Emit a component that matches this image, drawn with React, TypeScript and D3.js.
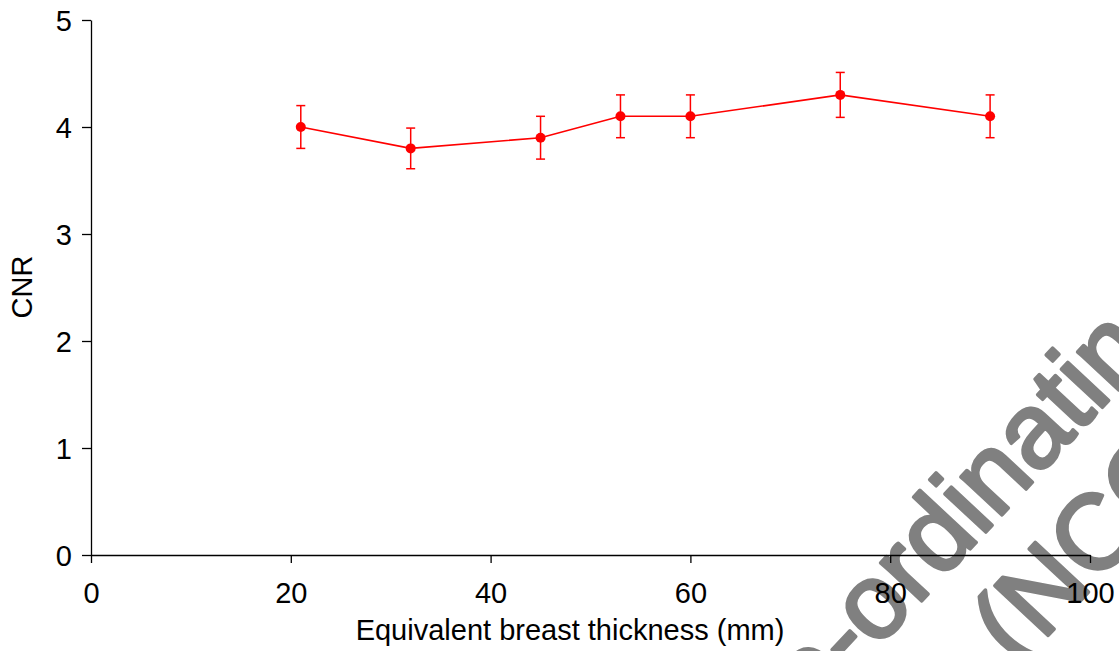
import { useEffect, useRef } from 'react'
import * as d3 from 'd3'

const thickness = [21, 32, 45, 53, 60, 75, 90]
const cnr = [4.0, 3.8, 3.9, 4.1, 4.1, 4.3, 4.1]
const cnrError = [0.2, 0.19, 0.2, 0.2, 0.2, 0.21, 0.2]
const xTicks = [0, 20, 40, 60, 80, 100]
const yTicks = [0, 1, 2, 3, 4, 5]
const watermarkLines = ['Co-ordinating Centre', '(NCCPM)']

const FONT = '"Liberation Sans", Arial, sans-serif'

const App = () => {
  const ref = useRef<SVGSVGElement | null>(null)

  useEffect(() => {
    if (!ref.current) return
    const svg = d3.select(ref.current)
    svg.selectAll('*').remove()

    const width = 1119
    const height = 651
    const x = d3.scaleLinear().domain([0, 100]).range([91, 1090])
    const y = d3.scaleLinear().domain([0, 5]).range([555, 20])

    svg.attr('width', width).attr('height', height).attr('viewBox', `0 0 ${width} ${height}`)

    // watermark sits under everything
    const wm = svg
      .append('g')
      .attr('transform', 'translate(876,650) rotate(-47)')
      .attr('fill', '#808080')
      .attr('stroke', '#808080')
      .attr('stroke-width', 3.5)
      .attr('stroke-linejoin', 'round')
      .attr('font-family', FONT)
      .attr('font-size', 106)
    wm.append('text').attr('x', -170).attr('y', 0).text(watermarkLines[0])
    wm.append('text').attr('x', 84).attr('y', 116).text(watermarkLines[1])

    const gx = svg
      .append('g')
      .attr('transform', `translate(0,${y(0)})`)
      .call(d3.axisBottom(x).tickValues(xTicks).tickFormat(d3.format('d')).tickSize(8).tickSizeOuter(0))
    gx.select('.domain').attr('stroke', '#000').attr('stroke-width', 1.3)
    gx.selectAll('.tick line').attr('stroke', '#000').attr('stroke-width', 1.3)
    gx.selectAll('.tick text')
      .attr('y', 48)
      .attr('dy', 0)
      .attr('fill', '#000')
      .attr('font-family', FONT)
      .attr('font-size', 29)

    const gy = svg
      .append('g')
      .attr('transform', `translate(${x(0)},0)`)
      .call(d3.axisLeft(y).tickValues(yTicks).tickFormat(d3.format('d')).tickSize(9).tickSizeOuter(0))
    gy.select('.domain').attr('stroke', '#000').attr('stroke-width', 1.3)
    gy.selectAll('.tick line').attr('stroke', '#000').attr('stroke-width', 1.3)
    gy.selectAll('.tick text')
      .attr('x', -19)
      .attr('dy', '0.36em')
      .attr('fill', '#000')
      .attr('font-family', FONT)
      .attr('font-size', 29)

    svg
      .append('text')
      .attr('x', 570)
      .attr('y', 640)
      .attr('text-anchor', 'middle')
      .attr('font-family', FONT)
      .attr('font-size', 29)
      .attr('fill', '#000')
      .text('Equivalent breast thickness (mm)')

    svg
      .append('text')
      .attr('transform', 'translate(32,287) rotate(-90)')
      .attr('text-anchor', 'middle')
      .attr('font-family', FONT)
      .attr('font-size', 29)
      .attr('fill', '#000')
      .text('CNR')

    const data = thickness.map((t, i) => ({ t, v: cnr[i], e: cnrError[i] }))
    const red = '#ff0000'

    const line = d3
      .line<{ t: number; v: number }>()
      .x((d) => x(d.t))
      .y((d) => y(d.v))

    svg
      .append('path')
      .datum(data)
      .attr('fill', 'none')
      .attr('stroke', red)
      .attr('stroke-width', 1.6)
      .attr('d', line)

    const bars = svg.append('g').attr('stroke', red).attr('stroke-width', 1.5)
    data.forEach((d) => {
      const cx = x(d.t)
      bars.append('line').attr('x1', cx).attr('x2', cx).attr('y1', y(d.v + d.e)).attr('y2', y(d.v - d.e))
      bars.append('line').attr('x1', cx - 4.5).attr('x2', cx + 4.5).attr('y1', y(d.v + d.e)).attr('y2', y(d.v + d.e))
      bars.append('line').attr('x1', cx - 4.5).attr('x2', cx + 4.5).attr('y1', y(d.v - d.e)).attr('y2', y(d.v - d.e))
    })

    svg
      .append('g')
      .selectAll('circle')
      .data(data)
      .join('circle')
      .attr('cx', (d) => x(d.t))
      .attr('cy', (d) => y(d.v))
      .attr('r', 5)
      .attr('fill', red)
  }, [])

  return <svg ref={ref} style={{ position: 'absolute', left: 0, top: 0, background: '#fff' }} />
}

export default App
